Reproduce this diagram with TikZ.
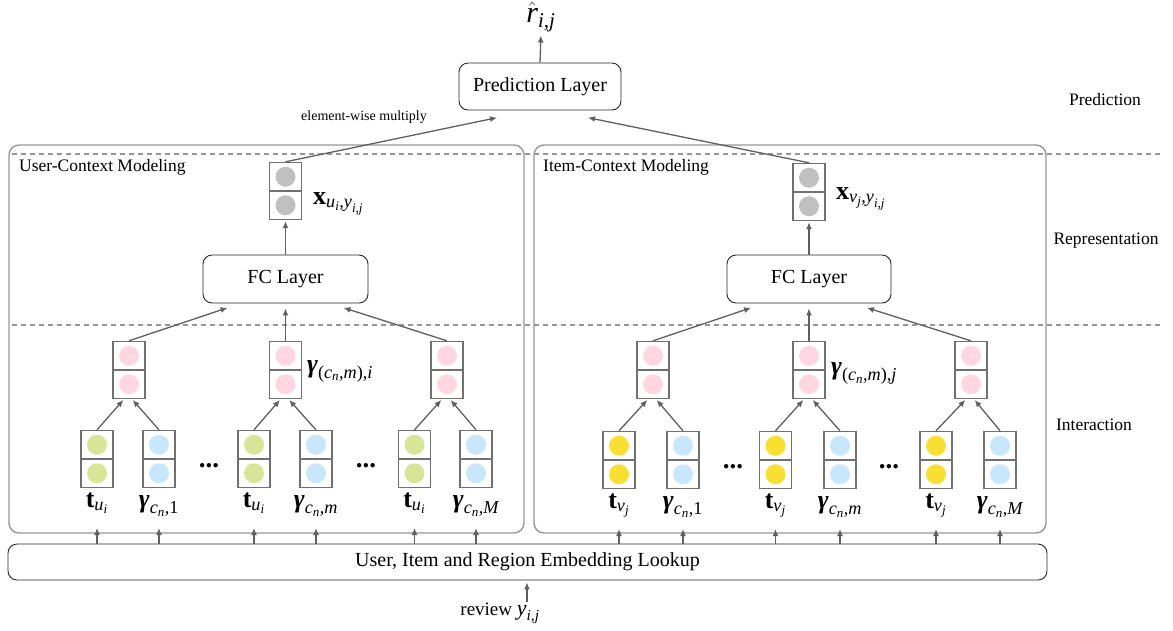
\documentclass[tikz,border=0pt]{standalone}
\usepackage{amsmath}
\usepackage{fontspec}
\setmainfont{Liberation Serif}
\usetikzlibrary{arrows.meta,calc}

% serif italic / bold italic symbols set from the text font
\newcommand\mi[1]{\textit{#1}}
\newcommand\bi[1]{\textbf{\textit{#1}}}

\definecolor{edgegray}{RGB}{95,95,95}
\definecolor{cellgray}{RGB}{112,112,112}
\definecolor{framegray}{RGB}{150,150,150}
\definecolor{dotgray}{RGB}{192,192,192}
\definecolor{dotpink}{RGB}{255,214,225}
\definecolor{dotgreen}{RGB}{214,230,150}
\definecolor{dotyellow}{RGB}{248,223,50}
\definecolor{dotblue}{RGB}{200,230,252}

\tikzset{
  cellbox/.style={draw=cellgray, line width=1.4pt, minimum width=32pt,
    minimum height=57pt, inner sep=0pt},
  layerbox/.style={draw=black!85, rounded corners=9pt, line width=0.9pt,
    inner sep=0pt, font=\fontsize{20}{24}\selectfont},
  panel/.style={draw=framegray, rounded corners=10pt, line width=1.4pt,
    inner sep=0pt},
  sepline/.style={draw=framegray, line width=1.8pt, dash pattern=on 5pt off 4pt},
  arr/.style={draw=edgegray, line width=1.3pt,
    -{Latex[length=7pt,width=6pt]}, shorten >=1pt},
  mathlbl/.style={inner sep=0pt, font=\fontsize{26}{30}\selectfont},
  sidelbl/.style={inner sep=0pt, font=\fontsize{17.5}{21}\selectfont},
  ellipsis/.style={inner sep=0pt, anchor=base, font=\fontsize{27}{30}\selectfont\bfseries},
}

% two-slot embedding vector: name, x, y, dot colour, label below
\newcommand\embvec[5]{%
  \node[cellbox] (#1) at (#2,#3) {};
  \draw[cellgray, line width=1.4pt] (#1.west) -- (#1.east);
  \fill[#4] ($(#1.center)+(0,-14.25)$) circle (10pt);
  \fill[#4] ($(#1.center)+(0,14.25)$) circle (10pt);
  \node[mathlbl, anchor=base] (#1-lbl) at ($(#1.center)+(0,48)$) {#5};
  \coordinate (#1-in) at ($(#1.center)+(0,68)$);
}
% two-slot vector without label below
\newcommand\plainvec[4]{%
  \node[cellbox] (#1) at (#2,#3) {};
  \draw[cellgray, line width=1.4pt] (#1.west) -- (#1.east);
  \fill[#4] ($(#1.center)+(0,-14.25)$) circle (10pt);
  \fill[#4] ($(#1.center)+(0,14.25)$) circle (10pt);
}

\begin{document}
\begin{tikzpicture}[x=1pt,y=-1pt]
\useasboundingbox (0,0) rectangle (1173,630);

% context panels
\node[panel, minimum width=515pt, minimum height=388pt] (userpanel) at (266.5,339) {};
\node[panel, minimum width=512pt, minimum height=388pt] (itempanel) at (790,339) {};
\node[sidelbl, anchor=west] (usertitle) at (19,167) {User-Context Modeling};
\node[sidelbl, anchor=west] (itemtitle) at (543,167) {Item-Context Modeling};

% stage separators and stage names
\draw[sepline] (12,154) -- (1160,154);
\draw[sepline] (12,325) -- (1160,325);
\node[sidelbl] (stagepred) at (1105,100) {Prediction};
\node[sidelbl] (stagerep) at (1106,241) {Representation};
\node[sidelbl] (stageint) at (1094,425) {Interaction};

% prediction layer
\node[layerbox, minimum width=162pt, minimum height=47pt] (pred) at (540,86.5) {Prediction Layer};
\node[mathlbl, font=\fontsize{30}{34}\selectfont] (rhat) at (541,17) {$\hat{\mi{r}}_{\mi{i,j}}$};
\draw[arr, shorten >=3pt] (pred.north) -- (rhat.south);
\node[inner sep=0pt, font=\fontsize{14}{16}\selectfont] (ewm) at (364,117) {element-wise multiply};

% representation layer
\node[layerbox, minimum width=165pt, minimum height=48pt] (fcu) at (285.5,279) {FC Layer};
\node[layerbox, minimum width=164pt, minimum height=48pt] (fci) at (809,279) {FC Layer};
\plainvec{xu}{285.5}{191}{dotgray}
\plainvec{xi}{809}{192}{dotgray}
\node[mathlbl, anchor=base west] (xulbl) at (313,204) {$\textbf{x}_{\mi{u}_{\mi{i}}\text{,}\mi{y}_{\mi{i,j}}}$};
\node[mathlbl, anchor=base west] (xilbl) at (836,199) {$\textbf{x}_{\mi{v}_{\mi{j}}\text{,}\mi{y}_{\mi{i,j}}}$};

\draw[arr] (xu.north) -- ([xshift=-42pt,yshift=-7pt]pred.south);
\draw[arr] (xi.north) -- ([xshift=47pt,yshift=-7pt]pred.south);
\draw[arr] (fcu.north) -- (xu.south);
\draw[arr] (fci.north) -- (xi.south);

% interaction vectors, user side
\plainvec{pu1}{129}{370}{dotpink}
\plainvec{pu2}{285.5}{370}{dotpink}
\plainvec{pu3}{447}{370}{dotpink}
\node[mathlbl, anchor=base west] (pulbl) at (307,372) {$\bi{γ}_{\text{(}\mi{c}_{\mi{n}}\text{,}\mi{m}\text{),}\mi{i}}$};

\embvec{tu1}{97}{459}{dotgreen}{$\textbf{t}_{\mi{u}_{\mi{i}}}$}
\embvec{cu1}{159}{459}{dotblue}{$\bi{γ}_{\mi{c}_{\mi{n}}\text{,1}}$}
\embvec{tu2}{254}{459}{dotgreen}{$\textbf{t}_{\mi{u}_{\mi{i}}}$}
\embvec{cu2}{316}{459}{dotblue}{$\bi{γ}_{\mi{c}_{\mi{n}}\text{,}\mi{m}}$}
\embvec{tu3}{414.5}{459}{dotgreen}{$\textbf{t}_{\mi{u}_{\mi{i}}}$}
\embvec{cu3}{476}{459}{dotblue}{$\bi{γ}_{\mi{c}_{\mi{n}}\text{,}\mi{M}}$}
\node[ellipsis] (du1) at (209,467) {...};
\node[ellipsis] (du2) at (366,467) {...};

% interaction vectors, item side
\plainvec{pi1}{653}{370}{dotpink}
\plainvec{pi2}{809}{370}{dotpink}
\plainvec{pi3}{971}{370}{dotpink}
\node[mathlbl, anchor=base west] (pilbl) at (831,374) {$\bi{γ}_{\text{(}\mi{c}_{\mi{n}}\text{,}\mi{m}\text{),}\mi{j}}$};

\embvec{ti1}{619}{460}{dotyellow}{$\textbf{t}_{\mi{v}_{\mi{j}}}$}
\embvec{ci1}{683}{460}{dotblue}{$\bi{γ}_{\mi{c}_{\mi{n}}\text{,1}}$}
\embvec{ti2}{775.5}{460}{dotyellow}{$\textbf{t}_{\mi{v}_{\mi{j}}}$}
\embvec{ci2}{840}{460}{dotblue}{$\bi{γ}_{\mi{c}_{\mi{n}}\text{,}\mi{m}}$}
\embvec{ti3}{936}{460}{dotyellow}{$\textbf{t}_{\mi{v}_{\mi{j}}}$}
\embvec{ci3}{1000}{460}{dotblue}{$\bi{γ}_{\mi{c}_{\mi{n}}\text{,}\mi{M}}$}
\node[ellipsis] (di1) at (733,468) {...};
\node[ellipsis] (di2) at (889,468) {...};

% interaction -> FC
\foreach \s/\f in {u/fcu, i/fci}{
  \draw[arr] (p\s1.north) -- ([xshift=-57pt,yshift=-4pt]\f.south);
  \draw[arr] (p\s2.north) -- ([yshift=-4pt]\f.south);
  \draw[arr] (p\s3.north) -- ([xshift=57pt,yshift=-4pt]\f.south);
}
% embeddings -> interaction
\foreach \s/\k in {u/1, u/2, u/3, i/1, i/2, i/3}{
  \draw[arr] (t\s\k.north) -- ([xshift=-5pt]p\s\k.south);
  \draw[arr] (c\s\k.north) -- ([xshift=3pt]p\s\k.south);
}

% embedding lookup
\node[layerbox, minimum width=1039pt, minimum height=36pt] (embed) at (527.5,562) {User, Item and Region Embedding Lookup};
\foreach \n in {tu1,cu1,tu2,cu2,tu3,cu3,ti1,ci1,ti2,ci2,ti3,ci3}{
  \draw[arr] (embed.north -| \n-in) -- (\n-in);
}

% input review
\node[inner sep=0pt, anchor=base, font=\fontsize{19}{23}\selectfont] (review) at (500,615) {review {\fontsize{22}{26}\selectfont$\mi{y}_{\mi{i,j}}$}};
\coordinate (reviewtop) at (527,602);
\draw[arr, shorten >=2pt] (reviewtop) -- (embed.south -| reviewtop);
\end{tikzpicture}
\end{document}
